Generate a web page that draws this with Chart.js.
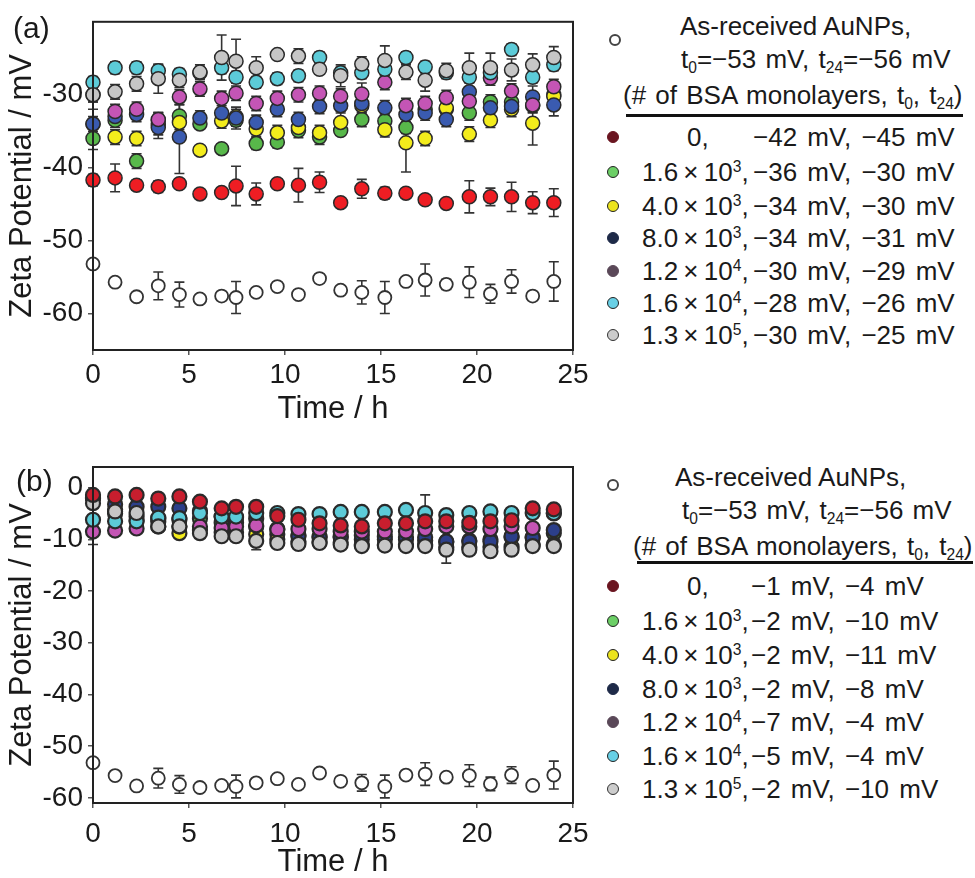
<!DOCTYPE html>
<html><head><meta charset="utf-8">
<script src="https://cdn.jsdelivr.net/npm/chart.js@4"></script>
<style>
body{margin:0;background:#fff;width:975px;height:878px;position:relative;overflow:hidden;font-family:"Liberation Sans",Arial,sans-serif;color:#1a1a1a}
#ca{position:absolute;left:0;top:0}
#cb{position:absolute;left:0;top:445px}
.t{position:absolute;font-size:26px;white-space:nowrap;line-height:1}
.lab{word-spacing:-2px}
.val{word-spacing:3px}
.hd{word-spacing:2px}
.m{position:absolute;width:12px;height:12px;border-radius:50%;box-sizing:border-box}
.rule{position:absolute;height:2.5px;background:#111}
sup{font-size:60%;vertical-align:baseline;position:relative;top:-0.55em}
sub{font-size:60%;vertical-align:baseline;position:relative;top:0.3em}
.pl{position:absolute;font-size:30px;line-height:1}
</style>
</head><body>
<canvas id="ca" width="600" height="440"></canvas>
<canvas id="cb" width="600" height="433"></canvas>
<div class="pl" style="left:13px;top:13px">(a)</div>
<div class="pl" style="left:16px;top:466px">(b)</div>
<div id="legends"></div>
<script>
// ---------- data ----------
const times = [0, 1.15, 2.27, 3.4, 4.5, 5.57, 6.7, 7.45, 8.5, 9.6, 10.7, 11.8, 12.9, 14.0, 15.2, 16.3, 17.3, 18.4, 19.6, 20.7, 21.8, 22.9, 24.0];
const xTicks = [0, 5, 10, 15, 20, 25];
const yTicksA = [-60, -50, -40, -30];
const yTicksB = [-60, -50, -40, -30, -20, -10, 0];

const asReceived    = [-53.2, -55.7, -57.7, -56.2, -57.4, -58.0, -57.6, -57.8, -57.1, -56.3, -57.4, -55.2, -56.8, -57.1, -57.8, -55.6, -55.4, -56.0, -55.7, -57.3, -55.6, -57.6, -55.6];
const asReceivedErr = [0, 0, 0.5, 1.9, 1.7, 0, 0, 2.2, 0, 0, 0, 0, 0, 1.6, 2.2, 0.5, 2.2, 0.7, 2.1, 1.3, 1.6, 0, 2.7];

// panel (a)
const aBsa0      = [-41.7, -41.4, -42.4, -42.6, -42.2, -43.6, -43.4, -42.5, -43.6, -42.2, -42.4, -42.0, -44.8, -42.9, -43.5, -43.5, -44.4, -44.9, -44.0, -44.0, -44.0, -44.8, -44.8];
const aBsa0Err   = [0.8, 1.9, 0.7, 0.8, 0.3, 0.3, 0.3, 2.7, 1.5, 0.3, 2.3, 1.4, 0.3, 1.3, 0.8, 0.6, 0.3, 0.3, 2.2, 1.2, 2.0, 1.5, 1.9];
const aBsa1k6    = [-36.0, -33.5, -39.1, -33.5, -32.9, -34.0, -37.4, -33.5, -36.7, -36.5, -34.9, -35.8, -34.9, -33.4, -33.6, -34.5, -32.0, -32.0, -32.5, -31.0, -31.0, -31.5, -30.0];
const aBsa1k6Err = [1.5, 1.0, 1.0, 1.0, 1.5, 0.5, 0.5, 0.8, 0.8, 0.8, 1.0, 1.0, 0.5, 1.0, 1.0, 0.8, 0.8, 0.8, 1.0, 1.0, 1.0, 1.0, 0.8];
const aBsa4k     = [-34.0, -35.8, -36.0, -34.0, -33.8, -37.6, -33.6, -33.0, -34.7, -35.2, -34.5, -35.2, -33.8, -31.5, -34.8, -36.6, -36.0, -31.8, -35.4, -33.5, -32.0, -33.9, -30.2];
const aBsa4kErr  = [1.0, 1.0, 1.0, 1.5, 1.0, 0.5, 1.0, 1.0, 1.0, 1.0, 1.0, 1.0, 1.5, 1.0, 1.0, 4.0, 1.0, 1.0, 1.0, 1.0, 1.0, 3.0, 1.0];
const aBsa8k     = [-34.0, -33.0, -32.7, -34.5, -35.8, -33.2, -32.5, -33.2, -33.8, -32.0, -33.4, -31.6, -31.5, -31.2, -31.8, -32.7, -32.5, -33.4, -29.6, -31.8, -31.6, -30.3, -31.4];
const aBsa8kErr  = [2.0, 1.0, 1.0, 1.5, 5.0, 1.0, 1.5, 1.5, 1.0, 1.0, 1.0, 1.0, 1.0, 1.5, 1.0, 1.0, 1.0, 1.0, 1.5, 1.5, 1.0, 1.5, 1.5];
const aBsa12k    = [-30.0, -32.3, -32.0, -33.4, -30.3, -29.2, -30.5, -29.8, -31.2, -30.5, -30.0, -29.8, -30.2, -29.9, -28.3, -31.5, -31.2, -30.4, -30.9, -27.7, -29.5, -31.4, -28.9];
const aBsa12kErr = [1.0, 1.0, 1.0, 1.0, 1.0, 1.0, 1.0, 1.0, 1.0, 1.0, 1.0, 1.0, 1.0, 1.5, 1.0, 1.0, 1.0, 1.0, 1.0, 1.0, 1.0, 1.0, 1.0];
const aBsa16k    = [-28.3, -26.3, -26.3, -26.7, -27.2, -27.0, -26.3, -27.6, -28.3, -27.8, -27.4, -24.9, -27.0, -27.0, -26.5, -24.9, -26.2, -27.0, -27.6, -27.0, -23.8, -27.6, -25.9];
const aBsa16kErr = [0.8, 0.8, 0.8, 0.8, 0.8, 0.8, 0.8, 0.8, 0.8, 0.8, 0.8, 0.8, 0.8, 0.8, 0.8, 0.8, 0.8, 0.8, 0.8, 0.8, 0.8, 0.8, 0.8];
const aBsa130k   = [-30.0, -29.6, -28.5, -27.8, -28.0, -26.9, -24.9, -25.4, -26.3, -24.5, -24.7, -26.5, -27.4, -25.8, -25.3, -26.9, -28.0, -26.7, -26.3, -26.3, -26.6, -25.9, -24.9];
const aBsa130kErr= [1.0, 1.0, 1.0, 2.0, 1.0, 1.0, 3.1, 3.0, 1.5, 0.5, 1.0, 0.5, 1.5, 1.0, 2.0, 1.0, 1.5, 1.0, 2.0, 2.0, 1.5, 1.5, 1.5];

// panel (b)
const bBsa0      = [-1.4, -1.7, -1.4, -2.1, -1.7, -2.7, -4.0, -3.7, -3.7, -5.5, -6.2, -6.9, -7.3, -7.5, -6.9, -6.9, -6.5, -6.5, -6.8, -6.5, -6.3, -4.0, -4.2];
const bBsa1k6    = [-2.0, -5.0, -6.3, -6.0, -6.2, -6.0, -6.8, -6.8, -7.5, -9.0, -9.2, -9.5, -9.6, -10.0, -10.0, -10.0, -10.2, -10.5, -10.2, -10.0, -9.6, -9.6, -8.8];
const bBsa4k     = [-2.0, -4.2, -5.6, -6.6, -8.8, -8.2, -8.6, -8.6, -9.0, -10.0, -10.4, -10.5, -10.6, -11.0, -11.0, -11.0, -11.0, -11.5, -11.5, -11.5, -11.4, -11.0, -11.0];
const bBsa8k     = [-2.0, -3.2, -3.7, -3.7, -4.0, -4.5, -5.6, -5.8, -6.0, -8.0, -9.4, -9.6, -9.5, -9.2, -9.5, -9.6, -9.6, -10.4, -10.4, -10.4, -9.4, -9.7, -8.2];
const bBsa12k    = [-8.5, -8.3, -7.9, -7.5, -7.5, -7.5, -7.8, -7.5, -7.3, -8.1, -8.0, -8.0, -8.5, -8.5, -8.5, -8.5, -8.0, -7.5, -7.5, -8.0, -7.5, -7.8, -5.0];
const bBsa12kErr = [2.5, 0, 0, 0, 0, 0, 0, 0, 0, 0, 0, 0, 0, 0, 0, 0, 0, 0, 0, 0, 0, 0, 0];
const bBsa16k    = [-6.2, -6.5, -6.5, -5.8, -5.9, -4.9, -5.6, -5.6, -4.9, -4.9, -5.1, -5.1, -4.7, -4.7, -4.7, -4.3, -4.9, -5.3, -4.9, -4.6, -4.9, -4.9, -4.9];
const bBsa16kErr = [0, 0, 0, 0, 0, 0, 0, 0, 0, 0, 0, 0, 0, 0, 0, 0, 3.5, 0, 0, 0, 0, 0, 0];
const bBsa130k   = [-3.0, -4.6, -4.9, -7.5, -7.5, -8.8, -9.4, -9.4, -10.3, -10.7, -10.9, -10.7, -11.0, -11.3, -11.2, -11.3, -11.3, -12.0, -12.0, -12.3, -12.0, -11.3, -11.3];
const bBsa130kErr= [0, 0, 0, 0, 0, 0, 0, 0, 1.7, 0, 0, 0, 0, 0, 0, 0, 0, 2.6, 0, 0, 0, 0, 0];

// legend text
const bsaLabels = ['0,', '1.6 × 10<sup>3</sup>,', '4.0 × 10<sup>3</sup>,', '8.0 × 10<sup>3</sup>,', '1.2 × 10<sup>4</sup>,', '1.6 × 10<sup>4</sup>,', '1.3 × 10<sup>5</sup>,'];
const valuesA = ['−42 mV, −45 mV', '−36 mV, −30 mV', '−34 mV, −30 mV', '−34 mV, −31 mV', '−30 mV, −29 mV', '−28 mV, −26 mV', '−30 mV, −25 mV'];
const valuesB = ['−1 mV, −4 mV', '−2 mV, −10 mV', '−2 mV, −11 mV', '−2 mV, −8 mV', '−7 mV, −4 mV', '−5 mV, −4 mV', '−2 mV, −10 mV'];

// ---------- styling ----------
const fillA = ['#ee1d23', '#58b84a', '#f3ec1c', '#3a5bb0', '#c455b5', '#5ccbd8', '#c6c6c6'];
const fillB = ['#c81e2e', '#58b84a', '#f3ec1c', '#2c3f8a', '#c455b5', '#5ccbd8', '#c6c6c6'];
const legFill = ['#6a1520', '#6ccf66', '#ece41e', '#1e2a48', '#5a4858', '#68d0e6', '#cccccc'];
const legBorder = ['#6a1520', '#222', '#222', '#1e2a48', '#5a4858', '#222', '#333'];

function pts(vals){ return times.map((t,i)=>({x:t, y:vals[i]})); }

const errorBars = {
  id:'errorBars',
  beforeDatasetsDraw(chart){
    const ctx = chart.ctx, ys = chart.scales.y;
    chart.data.datasets.forEach((ds,i)=>{
      if(!ds.errors) return;
      const meta = chart.getDatasetMeta(i);
      ctx.save(); ctx.strokeStyle = '#333'; ctx.lineWidth = 1.6;
      meta.data.forEach((pt,j)=>{
        const e = ds.errors[j]; if(!e) return;
        const v = ds.data[j].y;
        const y1 = ys.getPixelForValue(v+e), y2 = ys.getPixelForValue(v-e);
        ctx.beginPath();
        ctx.moveTo(pt.x,y1); ctx.lineTo(pt.x,y2);
        ctx.moveTo(pt.x-5,y1); ctx.lineTo(pt.x+5,y1);
        ctx.moveTo(pt.x-5,y2); ctx.lineTo(pt.x+5,y2);
        ctx.stroke();
      });
      ctx.restore();
    });
  }
};
const frame = {
  id:'frame',
  afterDraw(chart){
    const {ctx, chartArea:a} = chart;
    ctx.save(); ctx.strokeStyle = '#222'; ctx.lineWidth = 2;
    ctx.strokeRect(a.left, a.top, a.right-a.left, a.bottom-a.top);
    ctx.restore();
  }
};

function makeChart(id, series, errs, fills, bw, yMin, yMax, yTicks, opts){
  const order = [0,6,5,4,3,2,1]; // draw priority
  const datasets = [{
    data: pts(asReceived), errors: asReceivedErr,
    backgroundColor:'#ffffff', borderColor:'#333', borderWidth:1.8, pointRadius:6.5, clip:false
  }];
  order.forEach(k=>{
    datasets.push({data: pts(series[k]), errors: errs[k], backgroundColor: fills[k],
      borderColor:'#2a2a2a', borderWidth:bw, pointRadius:7, clip:false});
  });
  const tickFont = {family:'"Liberation Sans", Arial, sans-serif', size:28};
  const titleFont = {family:'"Liberation Sans", Arial, sans-serif', size:31, lineHeight:1};
  return new Chart(document.getElementById(id), {
    type:'scatter',
    data:{datasets},
    plugins:[errorBars, frame],
    options:{
      responsive:false, animation:false, devicePixelRatio:1,
      layout:{padding:{left:0, top:opts.padTop, right:27, bottom:0}},
      plugins:{legend:{display:false}, tooltip:{enabled:false}},
      scales:{
        x:{type:'linear', min:0, max:25,
          afterBuildTicks(s){ s.ticks = xTicks.map(v=>({value:v})); },
          afterFit(s){ s.height = opts.xH; },
          ticks:{font:tickFont, color:'#1a1a1a', padding:opts.xPad, maxRotation:0},
          grid:{drawOnChartArea:false, drawTicks:true, tickLength:5, color:'#555', lineWidth:1.5},
          border:{display:true, color:'#222', width:2},
          title:{display:true, text:'Time / h', font:titleFont, color:'#1a1a1a', padding:{top:0,bottom:opts.xTitlePad}}
        },
        y:{type:'linear', min:yMin, max:yMax,
          afterBuildTicks(s){ s.ticks = yTicks.map(v=>({value:v})); },
          afterFit(s){ s.width = 93; },
          ticks:{font:tickFont, color:'#1a1a1a', padding:5},
          grid:{drawOnChartArea:false, drawTicks:true, tickLength:5, color:'#555', lineWidth:1.5},
          border:{display:true, color:'#222', width:2},
          title:{display:true, text:'Zeta Potential / mV', font:titleFont, color:'#1a1a1a', padding:{top:7,bottom:0}}
        }
      }
    }
  });
}

makeChart('ca',
  [aBsa0, aBsa1k6, aBsa4k, aBsa8k, aBsa12k, aBsa16k, aBsa130k],
  [aBsa0Err, aBsa1k6Err, aBsa4kErr, aBsa8kErr, aBsa12kErr, aBsa16kErr, aBsa130kErr],
  fillA, 1.5, -65, -20, yTicksA, {padTop:13, xH:90, xPad:3, xTitlePad:15});
makeChart('cb',
  [bBsa0, bBsa1k6, bBsa4k, bBsa8k, bBsa12k, bBsa16k, bBsa130k],
  [null, null, null, null, bBsa12kErr, bBsa16kErr, bBsa130kErr],
  fillB, 2.2, -61, 4, yTicksB, {padTop:22, xH:75, xPad:9, xTitlePad:0});

// ---------- legends (HTML text) ----------
function legend(cfg, values){
  let h = '';
  h += `<div class="m" style="left:${cfg.openX-6}px;top:${cfg.openY-6}px;border:2px solid #444;background:#fff"></div>`;
  h += `<div class="t" style="left:${cfg.l1x}px;top:${cfg.l1y-13}px">As-received AuNPs,</div>`;
  h += `<div class="t hd" style="left:${cfg.l2x}px;top:${cfg.l2y-13}px">t<sub>0</sub>=−53 mV, t<sub>24</sub>=−56 mV</div>`;
  h += `<div class="t hd" style="left:${cfg.l3x}px;top:${cfg.l3y-13}px">(# of BSA monolayers, t<sub>0</sub>, t<sub>24</sub>)</div>`;
  h += `<div class="rule" style="left:${cfg.ruleX1}px;width:${cfg.ruleX2-cfg.ruleX1}px;top:${cfg.ruleY-1}px"></div>`;
  cfg.rows.forEach((y,i)=>{
    h += `<div class="m" style="left:607px;top:${y-6}px;background:${legFill[i]};border:1.5px solid ${legBorder[i]}"></div>`;
    h += `<div class="t lab" style="left:${i===0?687:642}px;top:${y-13}px">${bsaLabels[i]}</div>`;
    h += `<div class="t val" style="left:${cfg.valX}px;top:${y-13}px">${values[i]}</div>`;
  });
  return h;
}
document.getElementById('legends').innerHTML =
  legend({openX:615, openY:40, l1x:680, l1y:26, l2x:681, l2y:59, l3x:623, l3y:95, ruleX1:626, ruleX2:963, ruleY:115,
          rows:[137,172,206,238,271,303,335], valX:753}, valuesA) +
  legend({openX:613, openY:485, l1x:675, l1y:477, l2x:682, l2y:510, l3x:633, l3y:546, ruleX1:637, ruleX2:973, ruleY:562,
          rows:[586,621,655,689,722,756,789], valX:751}, valuesB);
</script>
</body></html>
